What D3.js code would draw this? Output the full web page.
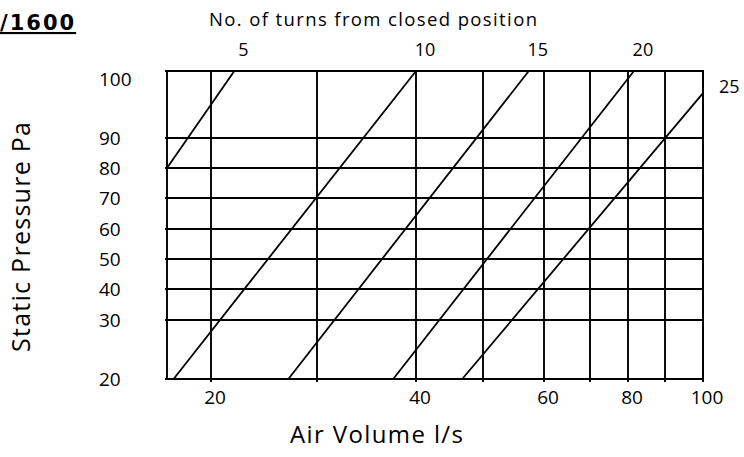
<!DOCTYPE html>
<html><head><meta charset="utf-8">
<script src="https://cdn.jsdelivr.net/npm/d3@7"></script>
<style>
body{margin:0;background:#fff}
svg{display:block}
text{font-family:"Open Sans",sans-serif;fill:#000}
</style>
</head><body><svg id="c" width="744" height="457"></svg>
<script>
// ---- data ----
const xTicks = [20, 30, 40, 50, 60, 70, 80, 90, 100];      // Air volume grid (l/s)
const xLabels = [20, 40, 60, 80, 100];
const yTicks = [20, 30, 40, 50, 60, 70, 80, 90, 100];      // Static pressure grid (Pa)
const turns = [5, 10, 15, 20, 25];                          // No. of turns from closed
const startFlow = [16, 16.6, 27.3, 37.7, 46.9];
const startPres = [80, 20, 20, 20, 20];
const endFlow = [22.2, 40, 57.5, 81.6, 100];
const endPres = [100, 100, 100, 100, 96.7];
const xMin = 16;

// ---- scales (chart's printed grid is irregular; piecewise-linear) ----
const x = d3.scaleLinear()
  .domain([xMin].concat(xTicks))
  .range([167, 211, 317, 416, 483, 544, 590, 628, 665, 703]);
const y = d3.scaleLinear()
  .domain(yTicks)
  .range([379, 320, 289, 259, 229, 198, 168, 138, 71]);

const svg = d3.select("#c");
const g = svg.append("g");
const sw = 1.9;

// grid
g.selectAll(".vg").data(xTicks).join("line")
  .attr("x1", d => x(d)).attr("x2", d => x(d))
  .attr("y1", y(20) + 3).attr("y2", y(100))
  .attr("stroke", "#000").attr("stroke-width", sw);
g.selectAll(".hg").data(yTicks).join("line")
  .attr("x1", x(xMin) - 2).attr("x2", x(100))
  .attr("y1", d => y(d)).attr("y2", d => y(d))
  .attr("stroke", "#000").attr("stroke-width", sw);
g.append("rect")
  .attr("x", x(xMin)).attr("y", y(100))
  .attr("width", x(100) - x(xMin)).attr("height", y(20) - y(100))
  .attr("fill", "none").attr("stroke", "#000").attr("stroke-width", sw);

// damper curves
const curves = turns.map((t, i) => ({t, pts: [[startFlow[i], startPres[i]], [endFlow[i], endPres[i]]]}));
const line = d3.line().x(d => x(d[0])).y(d => y(d[1]));
g.selectAll(".curve").data(curves).join("path")
  .attr("d", d => line(d.pts))
  .attr("fill", "none").attr("stroke", "#000").attr("stroke-width", 1.8);

// y tick labels
svg.selectAll(".yl").data(yTicks).join("text")
  .attr("x", 99)
  .attr("y", d => Math.max(y(d), y(100) + 8))
  .attr("dy", "0.36em")
  .attr("font-size", 19)
  .text(d => d);

// x tick labels
svg.selectAll(".xl").data(xLabels).join("text")
  .attr("x", d => x(d) + 4)
  .attr("y", 404)
  .attr("text-anchor", "middle")
  .attr("font-size", 19)
  .text(d => d);

// turn labels
svg.selectAll(".tl").data(curves.filter(c => c.pts[1][1] >= 100)).join("text")
  .attr("x", d => x(d.pts[1][0]) + 9)
  .attr("y", 56)
  .attr("text-anchor", "middle")
  .attr("font-size", 18)
  .text(d => d.t);
svg.selectAll(".tl2").data(curves.filter(c => c.pts[1][1] < 100)).join("text")
  .attr("x", 719)
  .attr("y", d => y(d.pts[1][1]))
  .attr("font-size", 18)
  .text(d => d.t);

// titles
svg.append("text").attr("x", 209).attr("y", 26).attr("font-size", 18.5)
  .attr("textLength", 328).attr("lengthAdjust", "spacing")
  .text("No. of turns from closed position");
svg.append("text").attr("x", 290).attr("y", 443).attr("font-size", 24)
  .attr("textLength", 173).attr("lengthAdjust", "spacing")
  .text("Air Volume l/s");
svg.append("text")
  .attr("transform", "translate(30,352) rotate(-90)")
  .attr("font-size", 25)
  .attr("textLength", 230).attr("lengthAdjust", "spacing")
  .text("Static Pressure Pa");
svg.append("text").attr("x", 0).attr("y", 30)
  .style("font-family", "'DejaVu Sans', sans-serif")
  .style("font-size", "21px").style("font-weight", "bold")
  .style("letter-spacing", "2px")
  .style("text-decoration", "underline")
  .text("/1600");
</script>
</body></html>
